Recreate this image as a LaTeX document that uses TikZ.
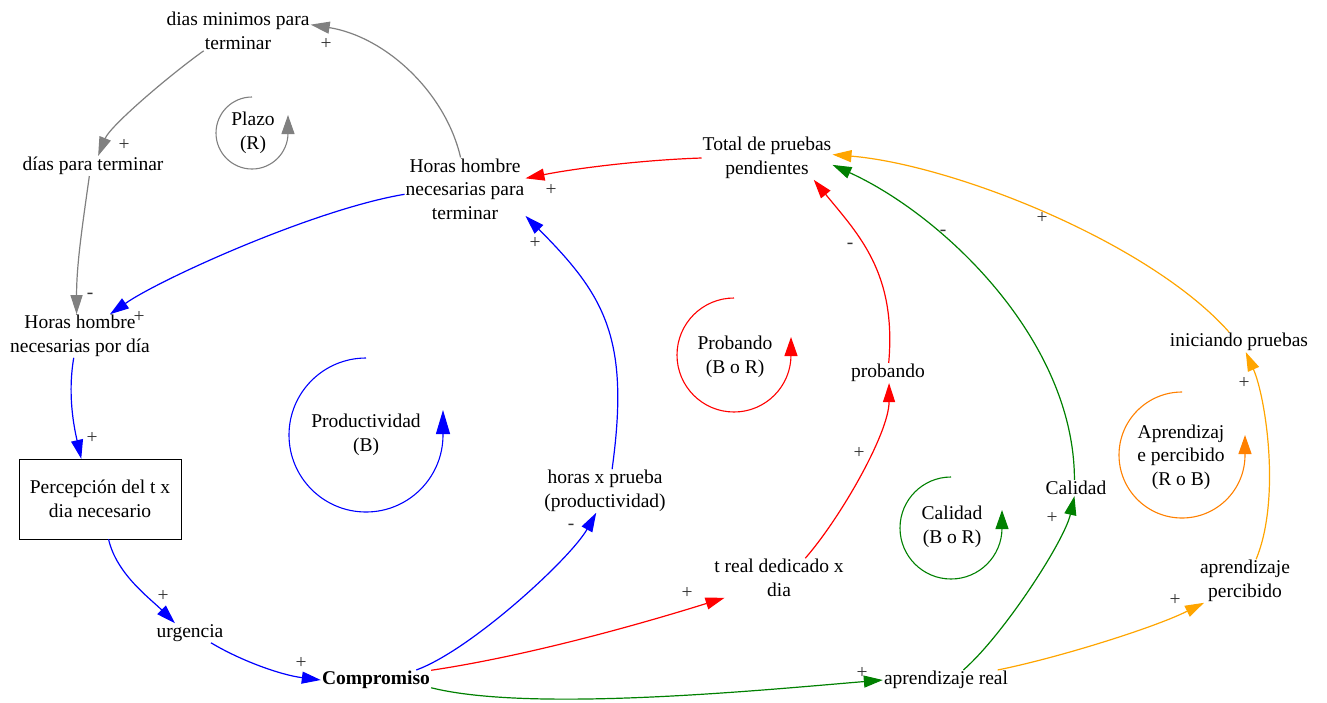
\documentclass[tikz,border=0pt]{standalone}
\usepackage{fontspec}
\setmainfont{Liberation Serif}
\usetikzlibrary{arrows.meta}
\definecolor{gris}{RGB}{128,128,128}
\definecolor{verde}{RGB}{0,128,0}
\definecolor{naranja}{RGB}{255,165,0}
\definecolor{naranjaosc}{RGB}{255,128,0}
\definecolor{signo}{RGB}{51,51,51}

\begin{document}
\begin{tikzpicture}[x=1pt, y=-1pt,
    font=\fontsize{19.5}{23.5}\selectfont,
    var/.style={align=center, inner sep=1pt},
    pol/.style={text=signo, inner sep=0pt},
    lazo/.style={line width=1.2pt, -{Triangle[length=19pt,width=12pt]}},
    bucle/.style={line width=1.1pt, -{Triangle[length=19pt,width=13pt]}}]
    \useasboundingbox (0,0) rectangle (1327,702);
    % Variables
    \node[var] (dmin) at (238,31) {dias minimos para\\terminar};
    \node[var] (dpt) at (93,166) {días para terminar};
    \node[var] (HHnt) at (465,189) {Horas hombre\\necesarias para\\terminar};
    \node[var] (TPP) at (767,158) {Total de pruebas\\pendientes};
    \node[var] (HHpd) at (80,336) {Horas hombre\\necesarias por día};
    \node[var, draw, minimum width=162pt, minimum height=80pt] (perc) at (100,499) {Percepción del t x\\dia necesario};
    \node[var] (urg) at (190,633) {urgencia};
    \node[var, font=\fontsize{19.5}{23.5}\selectfont\bfseries] (comp) at (376,680) {Compromiso};
    \node[var] (hxp) at (605,491) {horas x prueba\\(productividad)};
    \node[var] (treal) at (779,578) {t real dedicado x\\dia};
    \node[var] (prob) at (888,373) {probando};
    \node[var] (cal) at (1076,488) {Calidad};
    \node[var] (apreal) at (946,680) {aprendizaje real};
    \node[var] (apperc) at (1245,581) {aprendizaje\\percibido};
    \node[var] (inic) at (1239,342) {iniciando pruebas};
    % Bucles
    \draw[bucle, gris] (252,97) arc[start angle=270, end angle=0, radius=36] -- ++(0,-18);
    \node[var] (lplazo) at (253,133) {Plazo\\(R)};
    \draw[bucle, blue, -{Triangle[length=24pt,width=14pt]}] (366,358) arc[start angle=270, end angle=0, radius=77] -- ++(0,-25);
    \node[var] (lprod) at (366,435) {Productividad\\(B)};
    \draw[bucle, red] (734,298) arc[start angle=270, end angle=0, radius=57] -- ++(0,-18);
    \node[var] (lprob) at (735,357) {Probando\\(B o R)};
    \draw[bucle, verde] (951,477) arc[start angle=270, end angle=0, radius=51] -- ++(0,-18);
    \node[var] (lcal) at (952,527) {Calidad\\(B o R)};
    \draw[bucle, naranjaosc] (1182,392) arc[start angle=270, end angle=0, radius=63] -- ++(0,-20);
    \node[var] (lapr) at (1181,457) {Aprendizaj\\e percibido\\(R o B)};
    % Flechas
    \draw[lazo, gris] (HHnt.98) .. controls +(-15,-65) and +(75,12) .. (dmin.5);
    \draw[lazo, gris] (dmin.-150) .. controls +(-35,25) and +(12,-30) .. (dpt.63);
    \draw[lazo, gris] (dpt.-110) .. controls +(-7,50) and +(0,-50) .. (HHpd.99);
    \draw[lazo, blue] (HHnt.185) .. controls +(-90,15) and +(50,-35) .. (HHpd.36);
    \draw[lazo, blue] (HHpd.-106) .. controls +(-6,35) and +(-8,-35) .. (perc.115);
    \draw[lazo, blue] (perc.-78) .. controls +(8,35) and +(-25,-25) .. (urg.147);
    \draw[lazo, blue] (urg.-25) .. controls +(30,18) and +(-40,-5) .. (comp.180);
    \draw[lazo, blue] (comp.14) .. controls +(55,-20) and +(-25,45) .. (hxp.-112);
    \draw[lazo, blue] (hxp.72) .. controls +(18,-130) and +(80,80) .. (HHnt.-24);
    \draw[lazo, red] (TPP.180) .. controls +(-60,2) and +(50,-10) .. (HHnt.10);
    \draw[lazo, red] (comp.10) .. controls +(100,-15) and +(-80,25) .. (treal.-160);
    \draw[lazo, red] (treal.37) .. controls +(35,-40) and +(0,50) .. (prob.-84);
    \draw[lazo, red] (prob.86) .. controls +(8,-90) and +(45,55) .. (TPP.-25);
    \draw[lazo, verde] (comp.-8) .. controls +(100,25) and +(-120,10) .. (apreal.180);
    \draw[lazo, verde] (apreal.30) .. controls +(40,-35) and +(-10,45) .. (cal.-101);
    \draw[lazo, verde] (cal.101) .. controls +(0,-140) and +(110,50) .. (TPP.-6);
    \draw[lazo, naranja] (apreal.11) .. controls +(60,-12) and +(-50,25) .. (apperc.-152);
    \draw[lazo, naranja] (apperc.63) .. controls +(25,-60) and +(20,45) .. (inic.-56);
    \draw[lazo, naranja] (inic.135) .. controls +(-80,-90) and +(120,10) .. (TPP.3);
    % Signos
    \foreach \n/\x/\y/\s in {1/326/44/+, 2/124/145/+, 3/90/296/-, 4/139/317/+,
        5/92/438/+, 6/163/596/+, 7/301/663/+, 8/571/527/-, 9/535/243/+,
        10/551/190/+, 11/687/593/+, 12/859/453/+, 13/850/246/-, 14/862/673/+,
        15/1052/518/+, 16/943/233/-, 17/1175/600/+, 18/1244/383/+, 19/1042/218/+}
        \node[pol] (s\n) at (\x,\y) {\s};
\end{tikzpicture}
\end{document}
